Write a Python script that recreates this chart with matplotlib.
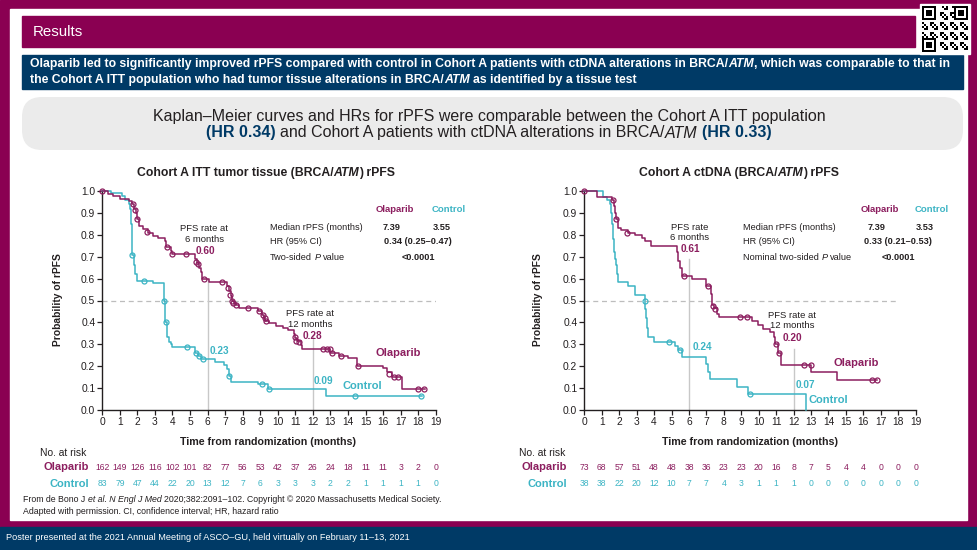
import numpy as np
import matplotlib
matplotlib.use('Agg')
import matplotlib.pyplot as plt
from matplotlib.patches import Rectangle, FancyBboxPatch
import matplotlib.transforms as mtransforms

# ---------------- data ----------------
months = list(range(20))

# Cohort A ITT tumor tissue - Olaparib (step times / survival after step)
itt_ola_t = [0, 0.3, 0.6, 1.0, 1.5, 1.7, 1.8, 1.9, 1.95, 2.1, 2.3, 2.6, 2.9, 3.2, 3.6, 3.65,
             3.9, 4.0, 5.3, 5.4, 5.5, 5.6, 5.7, 6.1, 7.1, 7.2, 7.35, 7.4, 7.5, 7.6, 7.8,
             8.9, 9.1, 9.2, 9.3, 9.5, 9.9, 10.3, 10.6, 10.9, 11.0, 11.1, 11.3, 11.4,
             13.0, 13.5, 14.0, 14.5, 16.0, 16.2, 16.5, 17.1]
itt_ola_s = [1.0, 0.988, 0.975, 0.963, 0.955, 0.94, 0.92, 0.90, 0.87, 0.84, 0.825, 0.81, 0.795,
             0.785, 0.77, 0.745, 0.725, 0.711, 0.69, 0.67, 0.65, 0.63, 0.60, 0.585, 0.565,
             0.545, 0.52, 0.50, 0.49, 0.478, 0.466, 0.452, 0.435, 0.42, 0.405, 0.395, 0.385,
             0.375, 0.365, 0.345, 0.33, 0.315, 0.298, 0.28, 0.262, 0.245, 0.237, 0.20, 0.19,
             0.175, 0.15, 0.095]
itt_ola_end = 18.4
itt_ola_cens_t = [0, 1.75, 1.85, 1.95, 2.55, 3.7, 4.0, 4.75, 5.35, 5.45, 5.8, 6.8, 7.15, 7.3,
                  7.38, 7.45, 7.6, 8.3, 8.95, 9.15, 9.25, 9.35, 11.0, 11.05, 11.2, 12.6, 12.8,
                  12.95, 13.1, 13.6, 14.6, 16.35, 16.65, 16.85, 18.0, 18.35]
itt_ola_cens_s = [1.0, 0.94, 0.915, 0.87, 0.815, 0.745, 0.711, 0.711, 0.675, 0.665, 0.60, 0.585,
                  0.556, 0.525, 0.50, 0.49, 0.478, 0.466, 0.452, 0.435, 0.42, 0.405, 0.335,
                  0.315, 0.31, 0.28, 0.28, 0.28, 0.262, 0.245, 0.20, 0.165, 0.15, 0.15, 0.095,
                  0.095]

# Cohort A ITT tumor tissue - Control
itt_ctl_t = [0, 0.5, 1.1, 1.3, 1.5, 1.6, 1.65, 1.7, 1.8, 1.85, 1.95, 2.0, 2.9, 3.5, 3.55, 3.6,
             3.7, 3.8, 3.9, 4.0, 5.3, 5.45, 5.65, 6.45, 6.95, 7.1, 7.2, 7.35, 8.9, 9.45, 12.75]
itt_ctl_s = [1.0, 0.99, 0.975, 0.96, 0.94, 0.92, 0.85, 0.71, 0.66, 0.62, 0.60, 0.59, 0.578,
             0.50, 0.45, 0.40, 0.335, 0.31, 0.30, 0.289, 0.26, 0.245, 0.232, 0.22, 0.205,
             0.185, 0.157, 0.13, 0.118, 0.094, 0.065]
itt_ctl_end = 18.2
itt_ctl_cens_t = [1.72, 2.35, 3.5, 3.62, 4.85, 5.35, 5.5, 5.75, 7.22, 9.1, 9.52, 14.4, 18.15]
itt_ctl_cens_s = [0.71, 0.59, 0.50, 0.40, 0.289, 0.26, 0.245, 0.232, 0.157, 0.118, 0.094,
                  0.065, 0.065]

# Cohort A ctDNA - Olaparib
ct_ola_t = [0, 0.7, 1.6, 1.7, 1.75, 1.8, 1.95, 2.1, 2.5, 2.9, 3.3, 3.5, 3.85, 5.3, 5.4, 5.5,
            5.6, 6.15, 6.95, 7.25, 7.32, 7.45, 7.6, 7.7, 9.6, 9.95, 10.25, 10.65, 10.85, 10.95,
            11.1, 11.3, 13.0, 14.5]
ct_ola_s = [1.0, 0.973, 0.96, 0.93, 0.90, 0.87, 0.83, 0.82, 0.81, 0.80, 0.785, 0.77, 0.75,
            0.72, 0.68, 0.65, 0.61, 0.597, 0.565, 0.53, 0.48, 0.465, 0.44, 0.425, 0.405, 0.39,
            0.368, 0.355, 0.335, 0.30, 0.26, 0.205, 0.175, 0.137]
ct_ola_end = 16.8
ct_ola_cens_t = [0, 1.63, 1.82, 2.47, 5.72, 7.12, 7.38, 7.52, 8.93, 9.33, 10.98, 11.15, 12.6,
                 12.98, 16.5, 16.78]
ct_ola_cens_s = [1.0, 0.96, 0.87, 0.81, 0.61, 0.565, 0.475, 0.46, 0.425, 0.425, 0.30, 0.26,
                 0.205, 0.205, 0.137, 0.137]

# Cohort A ctDNA - Control
ct_ctl_t = [0, 1.1, 1.3, 1.45, 1.55, 1.6, 1.65, 1.7, 1.75, 1.8, 1.9, 1.95, 2.5, 2.9, 3.5,
            3.55, 3.6, 3.65, 4.0, 5.2, 5.4, 5.6, 7.0, 7.1, 7.2, 8.75, 9.4, 12.7]
ct_ctl_s = [1.0, 0.973, 0.96, 0.94, 0.90, 0.85, 0.78, 0.72, 0.69, 0.66, 0.62, 0.586, 0.565,
            0.525, 0.46, 0.42, 0.375, 0.335, 0.31, 0.29, 0.275, 0.24, 0.21, 0.175, 0.14,
            0.105, 0.073, 0.0]
ct_ctl_end = 12.7
ct_ctl_cens_t = [3.48, 4.85, 5.48, 9.5]
ct_ctl_cens_s = [0.50, 0.31, 0.275, 0.073]

# numbers at risk
itt_risk_ola = [162, 149, 126, 116, 102, 101, 82, 77, 56, 53, 42, 37, 26, 24, 18, 11, 11, 3, 2, 0]
itt_risk_ctl = [83, 79, 47, 44, 22, 20, 13, 12, 7, 6, 3, 3, 3, 2, 2, 1, 1, 1, 1, 0]
ct_risk_ola = [73, 68, 57, 51, 48, 48, 38, 36, 23, 23, 20, 16, 8, 7, 5, 4, 4, 0, 0, 0]
ct_risk_ctl = [38, 38, 22, 20, 12, 10, 7, 7, 4, 3, 1, 1, 1, 0, 0, 0, 0, 0, 0, 0]

# ---------------- style ----------------
FRAME = '#8A0052'
BLUE = '#003A66'
OLA = '#8C1E5F'
CTL = '#3CB4C4'
GREY = '#EBEBEB'
VLINE = '#C8C8C8'
TXT = '#231F20'
SANS = ['Liberation Sans', 'DejaVu Sans']
NARROW = ['Liberation Sans Narrow', 'Liberation Sans', 'DejaVu Sans']

plt.rcParams['font.family'] = SANS

W, H = 977, 550
fig = plt.figure(figsize=(W / 100, H / 100), dpi=100)
bg = fig.add_axes([0, 0, 1, 1])
bg.set_xlim(0, W)
bg.set_ylim(H, 0)
bg.axis('off')
renderer = fig.canvas.get_renderer()

# frame and boxes
bg.add_patch(Rectangle((0, 0), W, H, color=FRAME, zorder=0))
bg.add_patch(Rectangle((10, 9), 957, 511, color='white', zorder=0.1))
bg.add_patch(Rectangle((0, 527), W, 23, color=BLUE, zorder=0.1))
bg.add_patch(Rectangle((22, 16), 893, 31, color=FRAME, zorder=0.2))
bg.add_patch(Rectangle((22, 55), 941, 34, color=BLUE, zorder=0.2))
bg.add_patch(FancyBboxPatch((22, 97), 941, 53, boxstyle='round,pad=0,rounding_size=20',
                            fc=GREY, ec='none', zorder=0.2))

# QR-like decoration
n = 23
qr = np.zeros((n, n))
ii, jj = np.meshgrid(np.arange(n), np.arange(n), indexing='ij')
qr[((ii * 7 + jj * 3 + ii * jj) % 5) < 2] = 1
for (r0, c0) in [(0, 0), (0, n - 7), (n - 7, 0)]:
    qr[r0:r0 + 8 if r0 == 0 else n, c0:c0 + 8 if c0 == 0 else n] = 0
    qr[r0:r0 + 7, c0:c0 + 7] = 1
    qr[r0 + 1:r0 + 6, c0 + 1:c0 + 6] = 0
    qr[r0 + 2:r0 + 5, c0 + 2:c0 + 5] = 1
bg.add_patch(Rectangle((920, 4), 50, 50, color='white', zorder=0.3))
bg.imshow(1 - qr, cmap='gray', extent=(922, 968, 52, 6), aspect='auto', zorder=0.4,
          interpolation='nearest')
bg.set_xlim(0, W)
bg.set_ylim(H, 0)


def adv_width(s, kw):
    t = bg.text(0, 0, '|' + s + '|', **kw)
    w1 = t.get_window_extent(renderer).width
    t.set_text('||')
    w0 = t.get_window_extent(renderer).width
    t.remove()
    return w1 - w0


def rich(x, y, pieces, ha='left', va='center', **base):
    items = []
    total = 0
    for s, extra in pieces:
        kw = dict(base)
        kw.update(extra)
        lead = len(s) - len(s.lstrip(' '))
        lw = adv_width(' ' * lead, kw) if lead else 0
        w = adv_width(s, kw)
        items.append((s.strip(' '), kw, lw, w))
        total += w
    cx = x - total / 2 if ha == 'center' else (x - total if ha == 'right' else x)
    for s, kw, lw, w in items:
        bg.text(cx + lw, y, s, ha='left', va=va, zorder=5, **kw)
        cx += w


B = {'fontweight': 'bold'}
I = {'fontstyle': 'italic'}
BI = {'fontweight': 'bold', 'fontstyle': 'italic'}
N = {}

# header texts
bg.text(33, 32, 'Results', color='white', fontsize=10.8, family=NARROW, va='center', zorder=5)
rich(30, 64, [('Olaparib led to significantly improved rPFS compared with control in Cohort A '
               'patients with ctDNA alterations in BRCA/', N), ('ATM', I),
              (', which was comparable to that in', N)],
     color='white', fontsize=8.85, fontweight='bold', family=NARROW)
rich(30, 80, [('the Cohort A ITT population who had tumor tissue alterations in BRCA/', N),
              ('ATM', I), (' as identified by a tissue test', N)],
     color='white', fontsize=8.85, fontweight='bold', family=NARROW)
rich(489, 116, [('Kaplan\u2013Meier curves and HRs for rPFS were comparable between the Cohort A '
                 'ITT population', N)], ha='center', color=TXT, fontsize=11.5, family=NARROW)
rich(489, 133, [('(HR 0.34)', {'color': BLUE, 'fontweight': 'bold'}),
                (' and Cohort A patients with ctDNA alterations in BRCA/', N), ('ATM', I),
                (' (HR 0.33)', {'color': BLUE, 'fontweight': 'bold'})],
     ha='center', color=TXT, fontsize=11.5, family=NARROW)

# footer texts
rich(23, 500, [('From de Bono J ', N), ('et al. N Engl J Med', I),
               (' 2020;382:2091\u2013102. Copyright \u00a9 2020 Massachusetts Medical Society.', N)],
     color=TXT, fontsize=6.3)
rich(23, 511, [('Adapted with permission. CI, confidence interval; HR, hazard ratio', N)],
     color=TXT, fontsize=6.3)
bg.text(6, 538, 'Poster presented at the 2021 Annual Meeting of ASCO\u2013GU, held virtually on '
        'February 11\u201313, 2021', color='white', fontsize=6.55, va='center', zorder=5)


def km(ax, t, s, end, ct, cs, color):
    tt = list(t) + [end]
    ss = list(s) + [s[-1]]
    ax.step(tt, ss, where='post', color=color, lw=1.1, zorder=3, clip_on=False)
    ax.plot(ct, cs, 'o', ms=3.6, mfc='none', mec=color, mew=0.9, zorder=4, clip_on=False)


panels = [
    dict(x0=102.3, x1=435.7, title=[('Cohort A ITT tumor tissue (BRCA/', B), ('ATM', BI), (') rPFS', B)],
         ola=(itt_ola_t, itt_ola_s, itt_ola_end, itt_ola_cens_t, itt_ola_cens_s),
         ctl=(itt_ctl_t, itt_ctl_s, itt_ctl_end, itt_ctl_cens_t, itt_ctl_cens_s),
         dash_end=19, v6=0.595, v12=0.335,
         lab6='PFS rate at\n6 months', pos6=(5.8, 0.803), o6=('0.60', 5.9, 0.728),
         c6=('0.23', 6.7, 0.27), lab12='PFS rate at\n12 months', pos12=(11.85, 0.416),
         o12=('0.28', 12.0, 0.338), c12=('0.09', 12.6, 0.134),
         olab=(16.85, 0.259), clab=(14.8, 0.111),
         tab_x=270, ola_x=395, ctl_x=449, med=('7.39', '3.55'), mid_x=418,
         hr='0.34 (0.25\u20130.47)', prow=[('Two-sided ', N), ('P', I), (' value', N)],
         risk=(itt_risk_ola, itt_risk_ctl), lab_x=89, nar_x=40, xl=268, yl=58, tx=266),
    dict(x0=584.3, x1=915.7, title=[('Cohort A ctDNA (BRCA/', B), ('ATM', BI), (') rPFS', B)],
         ola=(ct_ola_t, ct_ola_s, ct_ola_end, ct_ola_cens_t, ct_ola_cens_s),
         ctl=(ct_ctl_t, ct_ctl_s, ct_ctl_end, ct_ctl_cens_t, ct_ctl_cens_s),
         dash_end=18, v6=0.69, v12=0.28,
         lab6='PFS rate\n6 months', pos6=(6.06, 0.81), o6=('0.61', 6.06, 0.734),
         c6=('0.24', 6.77, 0.286), lab12='PFS rate at\n12 months', pos12=(11.9, 0.409),
         o12=('0.20', 11.93, 0.327), c12=('0.07', 12.7, 0.114),
         olab=(15.6, 0.213), clab=(14.0, 0.046),
         tab_x=743, ola_x=880, ctl_x=932, med=('7.39', '3.53'), mid_x=898,
         hr='0.33 (0.21\u20130.53)', prow=[('Nominal two-sided ', N), ('P', I), (' value', N)],
         risk=(ct_risk_ola, ct_risk_ctl), lab_x=567, nar_x=519, xl=750, yl=538, tx=739),
]

y_top, y_bot = 191, 410
for p in panels:
    ax = fig.add_axes([p['x0'] / W, 1 - y_bot / H, (p['x1'] - p['x0']) / W, (y_bot - y_top) / H])
    ax.patch.set_alpha(0)
    ax.set_zorder(2)
    ax.set_xlim(0, 19)
    ax.set_ylim(0, 1)
    ax.set_xticks(months)
    ax.set_yticks(np.round(np.arange(0, 1.01, 0.1), 1))
    ax.set_yticklabels([f'{v:.1f}' for v in np.arange(0, 1.01, 0.1)])
    for sp in ['top', 'right']:
        ax.spines[sp].set_visible(False)
    for sp in ['left', 'bottom']:
        ax.spines[sp].set_linewidth(1.0)
        ax.spines[sp].set_color('#231F20')
    ax.tick_params(direction='out', length=3.5, width=0.9, labelsize=7.4, pad=1.5,
                   colors='#231F20')
    ax.axhline(0.5, xmin=0, xmax=p['dash_end'] / 19, color='#BDBDBD', lw=0.9, ls=(0, (4, 3)),
               zorder=1)
    ax.plot([6, 6], [0, p['v6']], color=VLINE, lw=1.0, zorder=1)
    ax.plot([12, 12], [0, p['v12']], color=VLINE, lw=1.0, zorder=1)
    km(ax, *p['ctl'], CTL)
    km(ax, *p['ola'], OLA)

    fs = 6.8
    ax.text(*p['pos6'], p['lab6'], ha='center', va='center', fontsize=fs, color=TXT,
            linespacing=1.25)
    ax.text(*p['pos12'], p['lab12'], ha='center', va='center', fontsize=fs, color=TXT,
            linespacing=1.25)
    for (s, xx, yy), col in [(p['o6'], OLA), (p['c6'], CTL), (p['o12'], OLA), (p['c12'], CTL)]:
        ax.text(xx, yy, s, ha='center', va='center', fontsize=7.2, color=col, fontweight='bold')
    ax.text(*p['olab'], 'Olaparib', ha='center', va='center', fontsize=8, color=OLA,
            fontweight='bold')
    ax.text(*p['clab'], 'Control', ha='center', va='center', fontsize=8, color=CTL,
            fontweight='bold')

    # title and axis labels
    rich(p['tx'], 173, p['title'], ha='center', color=TXT, fontsize=8.8)
    bg.text(p['xl'], 442, 'Time from randomization (months)', ha='center', va='center',
            fontsize=7.7, fontweight='bold', color=TXT, zorder=5)
    bg.text(p['yl'], 300, 'Probability of rPFS', ha='center', va='center', rotation=90,
            fontsize=7.4, fontweight='bold', color=TXT, zorder=5)

    # stats table
    tx = p['tab_x']
    bg.text(p['ola_x'], 210, 'Olaparib', ha='center', va='center', fontsize=6.8, color=OLA,
            fontweight='bold', zorder=5)
    bg.text(p['ctl_x'], 210, 'Control', ha='center', va='center', fontsize=6.8, color=CTL,
            fontweight='bold', zorder=5)
    bg.text(tx, 227, 'Median rPFS (months)', ha='left', va='center', fontsize=6.6, color=TXT,
            zorder=5)
    bg.text(p['ola_x'] - 3, 227, p['med'][0], ha='center', va='center', fontsize=6.6,
            fontweight='bold', color=TXT, zorder=5)
    bg.text(p['ctl_x'] - 7, 227, p['med'][1], ha='center', va='center', fontsize=6.6,
            fontweight='bold', color=TXT, zorder=5)
    bg.text(tx, 242, 'HR (95% CI)', ha='left', va='center', fontsize=6.6, color=TXT, zorder=5)
    bg.text(p['mid_x'], 242, p['hr'], ha='center', va='center', fontsize=6.6,
            fontweight='bold', color=TXT, zorder=5)
    rich(tx, 257, p['prow'], color=TXT, fontsize=6.6)
    bg.text(p['mid_x'], 257, '<0.0001', ha='center', va='center', fontsize=6.6,
            fontweight='bold', color=TXT, zorder=5)

    # numbers at risk
    trans = mtransforms.blended_transform_factory(ax.transData, bg.transData)
    bg.text(p['nar_x'], 453, 'No. at risk', ha='left', va='center', fontsize=7.4, color=TXT,
            zorder=5)
    bg.text(p['lab_x'], 467, 'Olaparib', ha='right', va='center', fontsize=8, color=OLA,
            fontweight='bold', zorder=5)
    bg.text(p['lab_x'], 484, 'Control', ha='right', va='center', fontsize=8, color=CTL,
            fontweight='bold', zorder=5)
    r_ola, r_ctl = p['risk']
    for m, a, b in zip(months, r_ola, r_ctl):
        bg.text(m, 467, str(a), transform=trans, ha='center', va='center', fontsize=6.2,
                color=OLA, zorder=5)
        bg.text(m, 484, str(b), transform=trans, ha='center', va='center', fontsize=6.2,
                color=CTL, zorder=5)

fig.savefig('out.png', dpi=100)
